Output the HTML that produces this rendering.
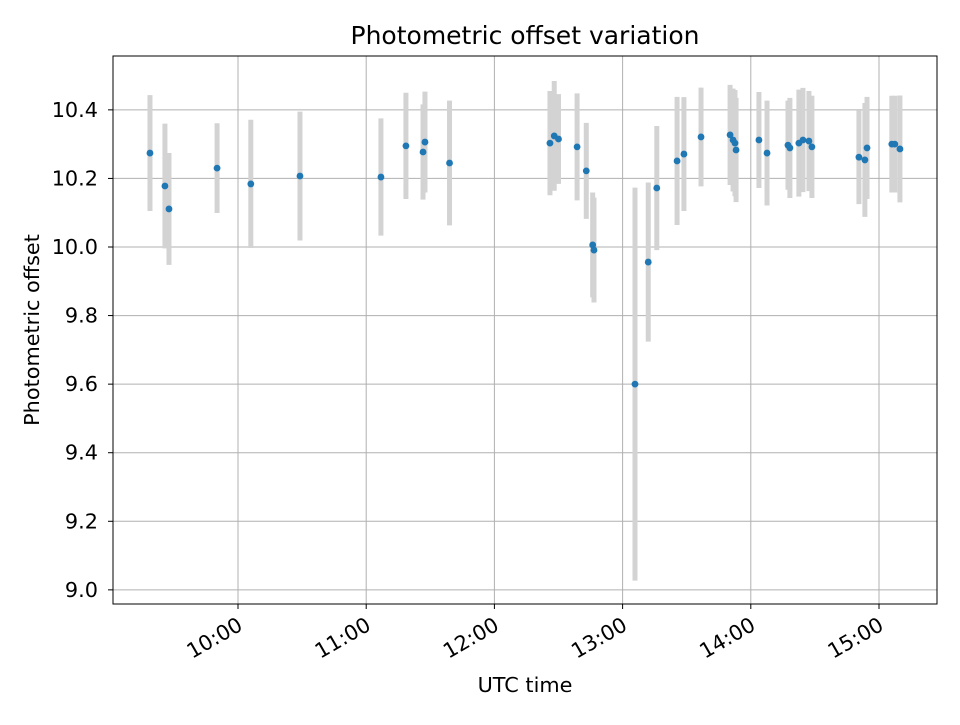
<!DOCTYPE html>
<html><head><meta charset="utf-8"><style>
body{margin:0;background:#fff}
svg text{font-family:"DejaVu Sans","Liberation Sans",sans-serif;fill:#000}
</style></head><body>
<svg id="chart" width="960" height="720" xmlns="http://www.w3.org/2000/svg">
<rect width="960" height="720" fill="#fff"/>
<g id="grid"></g>
<g id="bars"></g>
<g id="pts"></g>
<rect x="113" y="56" width="824" height="548" fill="none" stroke="#000" stroke-width="1"/>
<g id="axes"></g>
<text x="525" y="44" style="font-size:25px" text-anchor="middle">Photometric offset variation</text>
<text x="525" y="692" style="font-size:20.8px" text-anchor="middle">UTC time</text>
<text x="39" y="330" style="font-size:20.8px" text-anchor="middle" transform="rotate(-90 39 330)">Photometric offset</text>
</svg>
<script>
// minutes since 09:00 UTC
const times=[18.8,25.8,27.7,50.2,66,89,126.9,138.6,146.6,147.5,159,206,208,210,218.7,223,226,226.6,245.8,252,256,265.5,268.7,276.7,290.3,291.7,292.6,293.1,303.8,307.6,317.4,318.3,322.5,324.4,327.2,328.6,350.6,353.4,354.4,366,367.4,369.8];
const values=[10.274,10.178,10.111,10.230,10.184,10.207,10.204,10.295,10.277,10.306,10.245,10.303,10.324,10.315,10.292,10.222,10.006,9.991,9.600,9.956,10.172,10.251,10.271,10.321,10.327,10.312,10.303,10.283,10.312,10.274,10.297,10.289,10.303,10.312,10.309,10.292,10.262,10.254,10.289,10.300,10.300,10.286];
const errors=[0.169,0.182,0.163,0.131,0.187,0.188,0.171,0.155,0.139,0.147,0.182,0.152,0.160,0.131,0.156,0.140,0.153,0.153,0.573,0.232,0.181,0.187,0.166,0.144,0.146,0.150,0.155,0.152,0.140,0.153,0.130,0.146,0.156,0.152,0.146,0.149,0.137,0.166,0.149,0.141,0.141,0.156];
const yTicks=[9.0,9.2,9.4,9.6,9.8,10.0,10.2,10.4];
const xTicks=[60,120,180,240,300,360];
const xTickLabels=["10:00","11:00","12:00","13:00","14:00","15:00"];
const NS="http://www.w3.org/2000/svg";
const X=m=>238+(m-60)*128.2/60;
const Y=v=>247-(v-10)*342.86;
function mk(tag,attrs,parent){const e=document.createElementNS(NS,tag);for(const k in attrs)e.setAttribute(k,attrs[k]);document.getElementById(parent).appendChild(e);return e;}
yTicks.forEach((t,i)=>{
 const y=Y(t);
 const g=mk('line',{x1:113,x2:937,y1:y,y2:y,stroke:'#b0b0b0','stroke-width':1},'grid');
 
 
 const tk=mk('line',{x1:108,x2:113,y1:y,y2:y,stroke:'#000'},'axes');
 
 
 const tx=mk('text',{x:98,y:y+7,style:'font-size:20.8px','text-anchor':'end'},'axes');
 
 
 tx.textContent=t.toFixed(1);
});
xTicks.forEach((t,i)=>{
 const x=X(t);
 const g=mk('line',{x1:x,x2:x,y1:56,y2:604,stroke:'#b0b0b0','stroke-width':1},'grid');
 
 
 const tk=mk('line',{x1:x,x2:x,y1:604,y2:609,stroke:'#000'},'axes');
 
 
 const tx=mk('text',{x:x+6,y:629,style:'font-size:20.8px','text-anchor':'end',transform:`rotate(-30 ${x+6} 629)`},'axes');
 
 
 tx.textContent=xTickLabels[i];
});
times.forEach((t,i)=>{
 const x=X(t);
 const b=mk('line',{x1:x,x2:x,y1:Y(values[i]+errors[i]),y2:Y(values[i]-errors[i]),stroke:'#d3d3d3','stroke-width':5},'bars');
 
 
});
times.forEach((t,i)=>{
 const p=mk('circle',{cx:X(t),cy:Y(values[i]),r:3.4,fill:'#1f77b4'},'pts');
 
 
});
</script>
</body></html>
